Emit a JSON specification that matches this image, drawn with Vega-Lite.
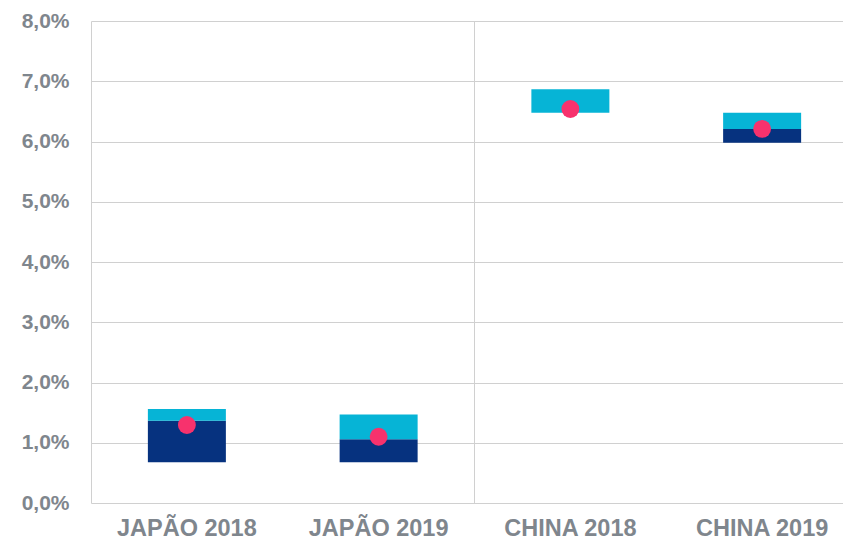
{
  "$schema": "https://vega.github.io/schema/vega-lite/v6.json",
  "width": 752,
  "height": 482,
  "autosize": "none",
  "padding": {"left": 91, "top": 21, "right": 0, "bottom": 41},
  "background": "white",
  "config": {
    "view": {"stroke": null},
    "font": "Liberation Sans"
  },
  "data": {
    "values": [
      {"pais": "JAPÃO 2018", "low": 0.675, "mid": 1.366, "high": 1.56, "ponto": 1.295},
      {"pais": "JAPÃO 2019", "low": 0.675, "mid": 1.057, "high": 1.47, "ponto": 1.10},
      {"pais": "CHINA 2018", "low": 6.478, "mid": 6.478, "high": 6.866, "ponto": 6.54},
      {"pais": "CHINA 2019", "low": 5.98, "mid": 6.207, "high": 6.478, "ponto": 6.21}
    ]
  },
  "encoding": {
    "x": {
      "field": "pais",
      "type": "nominal",
      "sort": null,
      "scale": {"domain": ["JAPÃO 2018", "JAPÃO 2019", "CHINA 2018", "CHINA 2019"], "range": [0, 767], "paddingInner": 0, "paddingOuter": 0},
      "axis": {
        "title": null,
        "domain": false,
        "ticks": false,
        "grid": false,
        "labelAngle": 0,
        "labelFontSize": 23.5,
        "labelFontWeight": "bold",
        "labelColor": "#7F868D",
        "labelPadding": 13
      }
    }
  },
  "layer": [
    {
      "mark": {"type": "rule", "color": "#D0D0D0", "strokeWidth": 1},
      "encoding": {
        "x": {"datum": "CHINA 2018", "bandPosition": 0}
      }
    },
    {
      "mark": {"type": "bar", "size": 78, "color": "#06327F"},
      "encoding": {
        "y": {
          "field": "low",
          "type": "quantitative",
          "scale": {"domain": [0, 8], "nice": false},
          "axis": {
            "title": null,
            "values": [0, 1, 2, 3, 4, 5, 6, 7, 8],
            "labelExpr": "replace(format(datum.value, '.1f'), '.', ',') + '%'",
            "labelFontSize": 21,
            "labelFontWeight": "bold",
            "labelColor": "#7F868D",
            "labelPadding": 22,
            "ticks": false,
            "domain": true,
            "domainColor": "#D0D0D0",
            "grid": true,
            "gridColor": "#D0D0D0",
            "gridWidth": 1
          }
        },
        "y2": {"field": "mid"}
      }
    },
    {
      "mark": {"type": "bar", "size": 78, "color": "#06B4D6"},
      "encoding": {
        "y": {"field": "mid", "type": "quantitative"},
        "y2": {"field": "high"}
      }
    },
    {
      "mark": {"type": "point", "filled": true, "size": 320, "color": "#F7326D", "opacity": 1},
      "encoding": {
        "y": {"field": "ponto", "type": "quantitative"}
      }
    }
  ]
}
